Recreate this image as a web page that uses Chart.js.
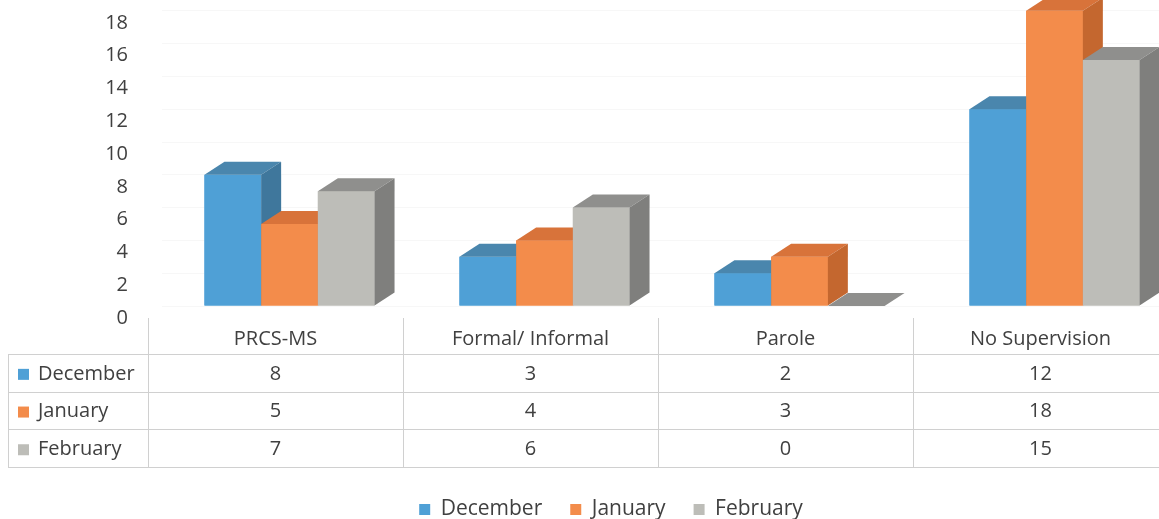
<!DOCTYPE html>
<html>
<head>
<meta charset="utf-8">
<script src="https://cdn.jsdelivr.net/npm/chart.js@4.4.1/dist/chart.umd.min.js"></script>
<style>
html, body { margin: 0; padding: 0; background: #fff; overflow: hidden; width: 1159px; height: 519px; }
#wrap { position: absolute; left: 0; top: -68px; width: 1190px; height: 598px; }
</style>
</head>
<body>
<div id="wrap"><canvas id="chart"></canvas></div>
<script>
const categories = ['PRCS-MS', 'Formal/ Informal', 'Parole', 'No Supervision'];
const seriesNames = ['December', 'January', 'February'];
const december = [8, 3, 2, 12];
const january = [5, 4, 3, 18];
const february = [7, 6, 0, 15];
const yMax = 20;
const yStep = 2;

// colours for the front / top / side of each series
const fronts = ['#4fa0d6', '#f38c4b', '#bdbdb8'];
const tops = ['#4a86ad', '#d8733a', '#8f8f8d'];
const sides = ['#3f779c', '#c4672f', '#7f7f7d'];

const FONT = '"Open Sans", "Noto Sans", sans-serif';
const TEXT = '#404040';
const DX = 20, DY = 13;      // depth of the 3d boxes
const TABLE_SHIFT = 14;      // data table sits a bit left of the bar fronts
const ROW_H = 37.7;

const canvas = document.getElementById('chart');
const series = [december, january, february];

const boxes3d = {
    id: 'boxes3d',
    afterDatasetsDraw(chart) {
        const ctx = chart.ctx;
        const poly = (pts, color) => {
            ctx.beginPath();
            ctx.moveTo(pts[0][0], pts[0][1]);
            pts.slice(1).forEach(p => ctx.lineTo(p[0], p[1]));
            ctx.closePath();
            ctx.fillStyle = color;
            ctx.fill();
        };
        ctx.save();
        categories.forEach((c, j) => {
            series.forEach((s, i) => {
                const bar = chart.getDatasetMeta(i).data[j];
                const {x, y, base, width} = bar.getProps(['x', 'y', 'base', 'width'], true);
                const l = x - width / 2, r = x + width / 2;
                ctx.fillStyle = fronts[i];
                ctx.fillRect(l, y, width, base - y);
                poly([[l, y], [l + DX, y - DY], [r + DX, y - DY], [r, y]], tops[i]);
                poly([[r, y], [r + DX, y - DY], [r + DX, base - DY], [r, base]], sides[i]);
            });
        });
        ctx.restore();
    }
};

const dataTable = {
    id: 'dataTable',
    afterDraw(chart) {
        const ctx = chart.ctx;
        const xs = chart.scales.x;
        const bottom = chart.chartArea.bottom;
        const half = (xs.getPixelForValue(1) - xs.getPixelForValue(0)) / 2;
        const centers = categories.map((c, i) => xs.getPixelForValue(i) - TABLE_SHIFT);
        const rightEdge = centers[centers.length - 1] + half;
        const headTop = bottom + 12;
        const firstLine = bottom + 48;
        const lastLine = firstLine + ROW_H * 3;

        ctx.save();
        ctx.strokeStyle = '#d0d0d0';
        ctx.lineWidth = 1;
        ctx.beginPath();
        // vertical lines
        centers.forEach(cx => {
            ctx.moveTo(Math.round(cx - half) + 0.5, headTop);
            ctx.lineTo(Math.round(cx - half) + 0.5, lastLine);
        });
        ctx.moveTo(Math.round(rightEdge) + 0.5, headTop);
        ctx.lineTo(Math.round(rightEdge) + 0.5, lastLine);
        ctx.moveTo(8.5, firstLine);
        ctx.lineTo(8.5, lastLine);
        // horizontal lines
        for (let r = 0; r <= 3; r++) {
            const yy = Math.round(firstLine + ROW_H * r) + 0.5;
            ctx.moveTo(8, yy);
            ctx.lineTo(rightEdge, yy);
        }
        ctx.stroke();

        ctx.font = '20px ' + FONT;
        ctx.fillStyle = TEXT;
        ctx.textBaseline = 'middle';
        ctx.textAlign = 'center';
        categories.forEach((c, i) => ctx.fillText(c, centers[i], bottom + 33));

        seriesNames.forEach((name, r) => {
            const cy = firstLine + ROW_H * r + ROW_H / 2 + 1;
            ctx.fillStyle = fronts[r];
            ctx.fillRect(18, cy - 5, 11, 11);
            ctx.fillStyle = TEXT;
            ctx.textAlign = 'left';
            ctx.fillText(name, 38, cy);
            ctx.textAlign = 'center';
            series[r].forEach((v, i) => ctx.fillText(String(v), centers[i], cy));
        });
        ctx.restore();
    }
};

new Chart(canvas, {
    type: 'bar',
    data: {
        labels: categories,
        datasets: seriesNames.map((name, i) => ({
            label: name,
            data: series[i],
            backgroundColor: fronts[i],
            borderWidth: 0,
            categoryPercentage: 0.667,
            barPercentage: 1.0
        }))
    },
    options: {
        responsive: true,
        maintainAspectRatio: false,
        animation: false,
        events: [],
        layout: {
            padding: { left: 40, right: 8, top: 18, bottom: 0 }
        },
        scales: {
            x: {
                offset: true,
                grid: { display: false },
                border: { display: false },
                ticks: { display: false },
                afterFit: s => { s.height = 165; }
            },
            y: {
                min: 0,
                max: yMax,
                ticks: {
                    stepSize: yStep,
                    color: TEXT,
                    padding: 34,
                    labelOffset: 12,
                    font: { family: FONT, size: 20 }
                },
                grid: { color: 'rgba(0,0,0,0.03)', drawTicks: false },
                border: { display: false },
                afterFit: s => { s.width = 122; }
            }
        },
        plugins: {
            tooltip: { enabled: false },
            legend: {
                position: 'bottom',
                labels: {
                    boxWidth: 11,
                    boxHeight: 11,
                    padding: 28,
                    color: TEXT,
                    font: { family: FONT, size: 21 }
                }
            }
        }
    },
    plugins: [boxes3d, dataTable]
});
</script>
</body>
</html>
